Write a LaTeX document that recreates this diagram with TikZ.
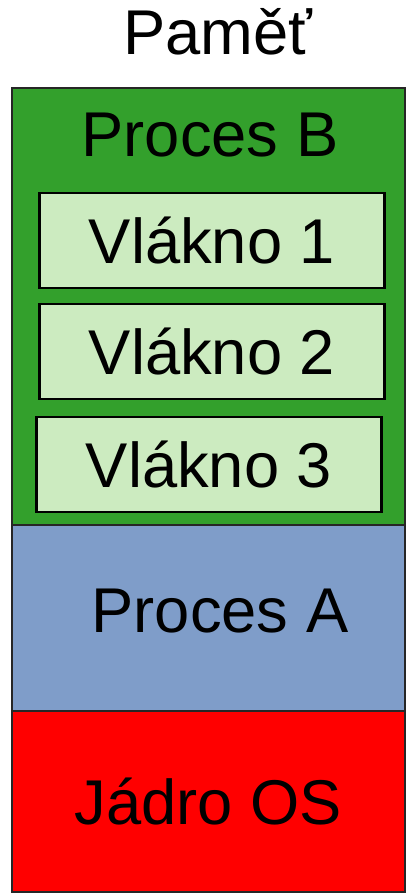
\documentclass[tikz,border=0pt]{standalone}
\usepackage{fontspec}
\setmainfont{Liberation Sans}
\usetikzlibrary{positioning}

\definecolor{procgreen}{RGB}{51,160,44}
\definecolor{threadgreen}{RGB}{204,235,192}
\definecolor{procblue}{RGB}{127,157,201}
\definecolor{kernelred}{RGB}{255,0,0}

\begin{document}
\begin{tikzpicture}[x=0.025cm, y=0.025cm,
    every node/.style={font=\fontsize{45}{54}\selectfont, inner sep=0pt, outer sep=0pt},
    region/.style={draw=black!85, line width=1.6pt, minimum width=9.825cm},
    thread/.style={draw=black, line width=1.6pt, fill=threadgreen,
      minimum width=8.625cm, minimum height=2.375cm}]
    \useasboundingbox (0,0) rectangle (406,894);

    \node[anchor=base] (title) at (218, 839) {Paměť};

    % memory layout
    \node[region, fill=procgreen, minimum height=10.925cm, anchor=north west] (procB) at (12, 806) {};
    \node[region, fill=procblue, minimum height=4.65cm, below=0cm of procB] (procA) {};
    \node[region, fill=kernelred, minimum height=4.525cm, below=0cm of procA] (jadro) {Jádro OS};

    \node[anchor=base] (procBtext) at (210, 737) {Proces B};
    \node[anchor=base] (procAtext) at (220, 261) {Proces A};

    % threads of process B
    \node[thread] (vl1) at (212, 653.5) {Vlákno 1};
    \node[thread, below=0.4cm of vl1] (vl2) {Vlákno 2};
    \node[thread, below=0.45cm of vl2, xshift=-0.075cm] (vl3) {Vlákno 3};
\end{tikzpicture}
\end{document}
